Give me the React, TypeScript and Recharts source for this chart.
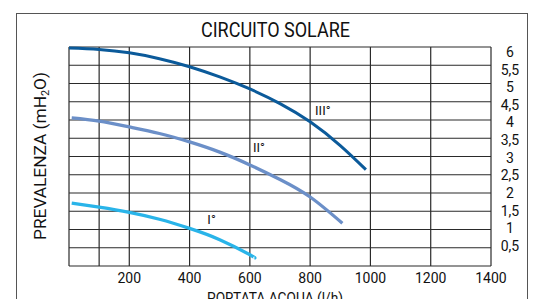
import React from "react";
import {
  LineChart,
  Line,
  XAxis,
  YAxis,
  CartesianGrid,
  ReferenceDot,
} from "recharts";

const FONT = "Roboto, 'Liberation Sans', Arial, sans-serif";

// portata (l/h) / prevalenza (mH2O)
const curveIII = [
  { q: 0, h: 5.97 },
  { q: 100, h: 5.93 },
  { q: 200, h: 5.84 },
  { q: 300, h: 5.68 },
  { q: 400, h: 5.46 },
  { q: 500, h: 5.18 },
  { q: 600, h: 4.85 },
  { q: 700, h: 4.45 },
  { q: 800, h: 3.95 },
  { q: 900, h: 3.3 },
  { q: 985, h: 2.64 },
];

const curveII = [
  { q: 9, h: 4.06 },
  { q: 100, h: 3.97 },
  { q: 200, h: 3.81 },
  { q: 300, h: 3.63 },
  { q: 400, h: 3.4 },
  { q: 500, h: 3.12 },
  { q: 600, h: 2.77 },
  { q: 700, h: 2.37 },
  { q: 800, h: 1.89 },
  { q: 907, h: 1.17 },
];

const curveI = [
  { q: 9, h: 1.72 },
  { q: 100, h: 1.61 },
  { q: 200, h: 1.47 },
  { q: 300, h: 1.28 },
  { q: 400, h: 1.03 },
  { q: 500, h: 0.72 },
  { q: 600, h: 0.31 },
  { q: 615, h: 0.22 },
];

const xTicks = [0, 100, 200, 400, 600, 800, 1000, 1200, 1400];
const yTicks = [0, 0.5, 1, 1.5, 2, 2.5, 3, 3.5, 4, 4.5, 5, 5.5, 6];

const curveLabels = [
  { name: "III°", q: 842, h: 4.27 },
  { name: "II°", q: 630, h: 3.26 },
  { name: "I°", q: 473, h: 1.29 },
];

const fmtY = (v: number) => (v === 0 ? "" : String(v).replace(".", ","));
const fmtX = (v: number) => (v < 200 ? "" : String(v));

// labels are packed a little tighter than the grid lines
const YTick = ({ x, y, payload }: any) => (
  <text
    x={x + 11}
    y={y + 5 - (6 - payload.value) * 1.27}
    textAnchor="middle"
    dominantBaseline="central"
    fontFamily={FONT}
    fontSize={14}
    fill="#111"
  >
    {fmtY(payload.value)}
  </text>
);

const XTick = ({ x, y, payload }: any) => (
  <text
    x={x}
    y={y}
    dy={9}
    textAnchor="middle"
    fontFamily={FONT}
    fontSize={14}
    fill="#111"
  >
    {fmtX(payload.value)}
  </text>
);

export default function App() {
  return (
    <div
      style={{
        position: "relative",
        width: 539,
        height: 307,
        margin: -8,
        overflow: "hidden",
        background: "#fff",
      }}
    >
      <LineChart
        width={539}
        height={307}
        margin={{ top: 47, right: 8, left: 69, bottom: 11 }}
      >
        <CartesianGrid stroke="#2a2a2a" strokeWidth={1.2} />
        <XAxis
          type="number"
          dataKey="q"
          domain={[0, 1400]}
          ticks={xTicks}
          interval={0}
          axisLine={false}
          tickLine={false}
          height={30}
          tick={<XTick />}
        />
        <YAxis
          orientation="right"
          type="number"
          domain={[0, 6]}
          ticks={yTicks}
          interval={0}
          axisLine={false}
          tickLine={false}
          width={40}
          tick={<YTick />}
        />
        <Line
          data={curveIII}
          dataKey="h"
          type="natural"
          stroke="#0b5a9a"
          strokeWidth={3}
          dot={false}
          isAnimationActive={false}
        />
        <Line
          data={curveII}
          dataKey="h"
          type="natural"
          stroke="#6b8fc8"
          strokeWidth={3.3}
          dot={false}
          isAnimationActive={false}
        />
        <Line
          data={curveI}
          dataKey="h"
          type="natural"
          stroke="#29b4e9"
          strokeWidth={3.3}
          dot={false}
          isAnimationActive={false}
        />
        {curveLabels.map((l) => (
          <ReferenceDot
            key={l.name}
            x={l.q}
            y={l.h}
            r={0}
            stroke="none"
            label={{
              value: l.name,
              position: "center",
              fontSize: 13,
              fontFamily: FONT,
              fill: "#111",
            }}
          />
        ))}
      </LineChart>
      <svg
        width={539}
        height={307}
        style={{ position: "absolute", left: 0, top: 0, pointerEvents: "none" }}
      >
        <rect x={16.5} y={13.5} width={511} height={400} fill="none" stroke="#555" />
        <text
          x={201}
          y={37}
          textLength={149}
          lengthAdjust="spacingAndGlyphs"
          fontFamily={FONT}
          fontSize={19.5}
          fill="#111"
        >
          CIRCUITO SOLARE
        </text>
        <text
          x={207}
          y={303}
          textLength={136}
          lengthAdjust="spacingAndGlyphs"
          fontFamily={FONT}
          fontSize={15}
          fill="#111"
        >
          PORTATA ACQUA (l/h)
        </text>
        <text
          x={46}
          y={240}
          transform="rotate(-90 46 240)"
          textLength={168}
          lengthAdjust="spacingAndGlyphs"
          fontFamily={FONT}
          fontSize={16}
          fill="#111"
        >
          PREVALENZA (mH
          <tspan fontSize={10} dy={3}>2</tspan>
          <tspan dy={-3}>O)</tspan>
        </text>
      </svg>
    </div>
  );
}
